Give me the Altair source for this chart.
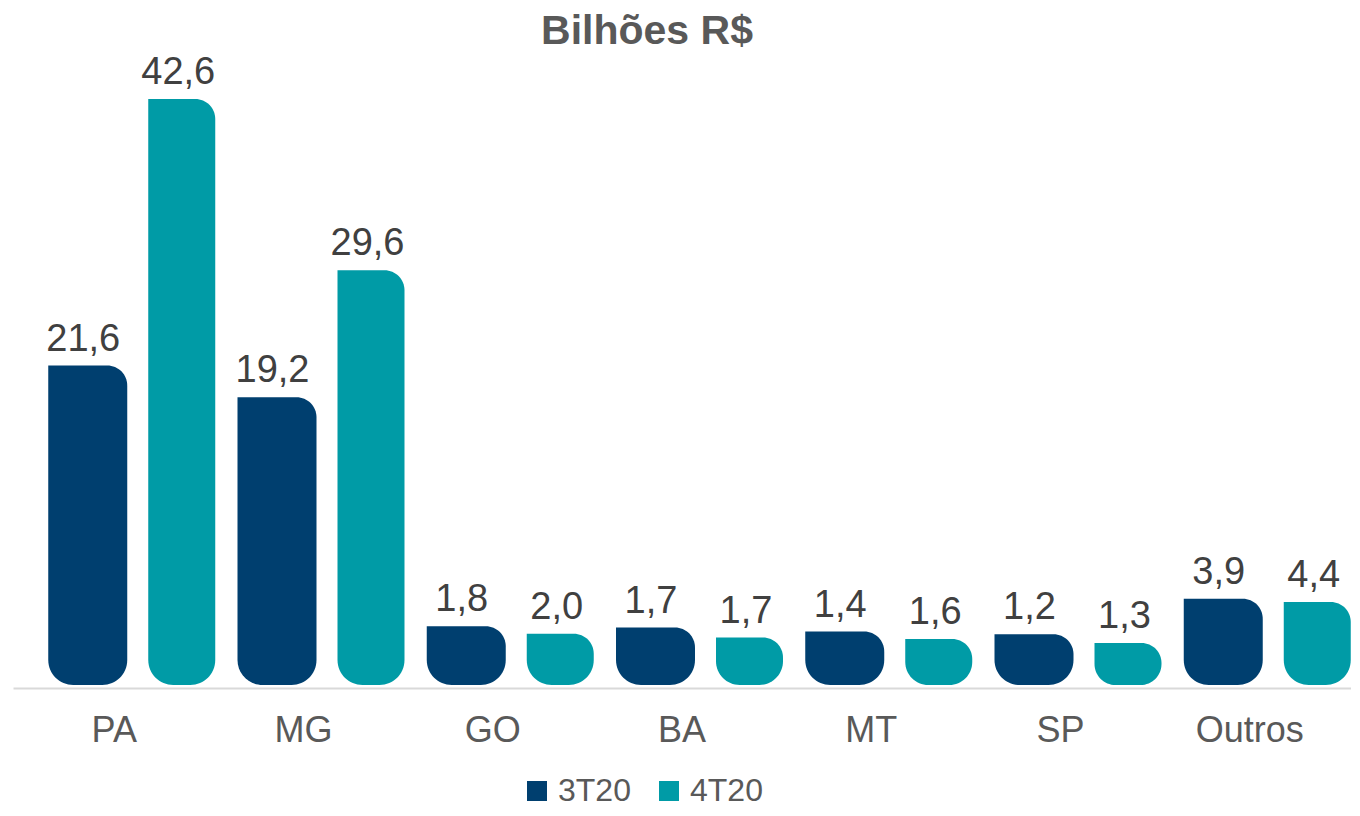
import altair as alt
import pandas as pd

estados = ["PA", "MG", "GO", "BA", "MT", "SP", "Outros"]
series = ["3T20", "4T20"]
valores_3t20 = [21.6, 19.2, 1.8, 1.7, 1.4, 1.2, 3.9]
valores_4t20 = [42.6, 29.6, 2.0, 1.7, 1.6, 1.3, 4.4]
cores = ["#003F6F", "#009BA6"]

rows = []
for e, a, b in zip(estados, valores_3t20, valores_4t20):
    rows.append({"estado": e, "serie": series[0], "valor": a})
    rows.append({"estado": e, "serie": series[1], "valor": b})
df = pd.DataFrame(rows)

base = alt.Chart(df).transform_calculate(
    rotulo="replace(format(datum.valor, '.1f'), '.', ',')"
)

x_enc = alt.X(
    "estado:N",
    sort=estados,
    scale=alt.Scale(paddingInner=0, paddingOuter=0.035),
    axis=alt.Axis(
        title=None,
        ticks=False,
        domain=True,
        domainColor="#D9D9D9",
        domainWidth=2,
        offset=3,
        labelFontSize=36,
        labelColor="#595959",
        labelFont="Liberation Sans",
        labelPadding=25,
        labelAngle=0,
        grid=False,
    ),
)
y_enc = alt.Y(
    "valor:Q",
    scale=alt.Scale(domain=[0, 48], nice=False, zero=True),
    axis=None,
)
color_enc = alt.Color(
    "serie:N",
    scale=alt.Scale(domain=series, range=cores),
    legend=alt.Legend(
        title=None,
        orient="none",
        direction="horizontal",
        legendX=508,
        legendY=722,
        symbolType="square",
        symbolSize=400,
        symbolStrokeWidth=0,
        labelFontSize=32,
        labelFont="Liberation Sans",
        labelColor="#595959",
        labelOffset=5,
        columnPadding=22,
    ),
)

corner = dict(cornerRadiusTopLeft=0, cornerRadiusTopRight=20,
              cornerRadiusBottomLeft=25, cornerRadiusBottomRight=25)

bar3 = base.transform_filter(alt.datum.serie == series[0]).mark_bar(
    width=79, xOffset=-26.5, yOffset=-35, **corner
).encode(x=x_enc, y=y_enc, y2=alt.datum(0), color=color_enc)

bar4 = base.transform_filter(alt.datum.serie == series[1]).mark_bar(
    width=67, xOffset=67.5, yOffset=-25, **corner
).encode(x=x_enc, y=y_enc, y2=alt.datum(0), color=color_enc)

txt_style = dict(fontSize=38, font="Liberation Sans", color="#404040",
                 baseline="alphabetic", align="center")

txt3 = base.transform_filter(alt.datum.serie == series[0]).mark_text(
    xOffset=-31, yOffset=-50, **txt_style
).encode(x=x_enc, y=y_enc, text="rotulo:N")

txt4 = base.transform_filter(alt.datum.serie == series[1]).mark_text(
    xOffset=64, yOffset=-40, **txt_style
).encode(x=x_enc, y=y_enc, text="rotulo:N")

chart = alt.layer(bar3, bar4, txt3, txt4).properties(
    width=1338,
    height=632,
    title=alt.Title(
        "Bilhões R$",
        fontSize=41,
        font="Liberation Sans",
        fontWeight="bold",
        color="#595959",
        anchor="middle",
        offset=0,
        dx=-35,
    ),
    autosize=alt.AutoSizeParams(type="none"),
    padding={"left": 5, "right": 0, "top": 45, "bottom": 123},
).configure_view(stroke=None)

chart.save("out.html", embed_options={"renderer": "svg", "actions": False})
